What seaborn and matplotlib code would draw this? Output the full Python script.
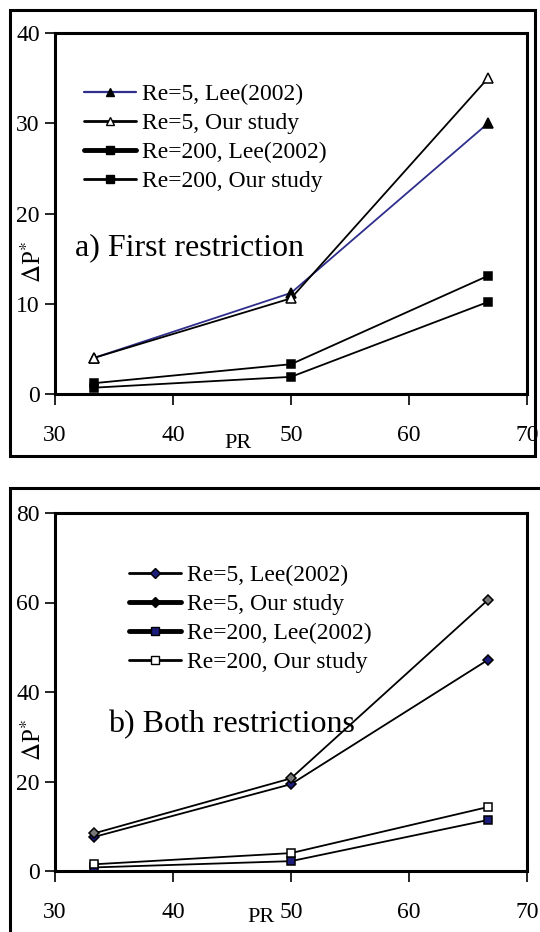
import matplotlib
matplotlib.use("Agg")
import matplotlib.pyplot as plt
from matplotlib.lines import Line2D
from matplotlib.patches import Rectangle
import seaborn as sns

# ---------------- data ----------------
pr = [33.3, 50.0, 66.7]

# a) First restriction
a_re5_lee = [4.0, 11.2, 30.0]
a_re5_our = [4.0, 10.6, 35.0]
a_re200_lee = [0.7, 1.9, 10.2]
a_re200_our = [1.2, 3.3, 13.1]

# b) Both restrictions
b_re5_lee = [7.6, 19.4, 47.2]
b_re5_our = [8.4, 20.7, 60.6]
b_re200_lee = [0.8, 2.2, 11.4]
b_re200_our = [1.5, 4.0, 14.3]

labels = ["Re=5, Lee(2002)", "Re=5, Our study", "Re=200, Lee(2002)", "Re=200, Our study"]
x_ticks = [30, 40, 50, 60, 70]
a_yticks = [0, 10, 20, 30, 40]
b_yticks = [0, 20, 40, 60, 80]

# ---------------- style ----------------
sns.set_theme(style="white")
plt.rcParams["font.family"] = ["Liberation Serif", "DejaVu Serif"]
plt.rcParams["mathtext.fontset"] = "stix"
plt.rcParams["text.color"] = "black"
plt.rcParams["xtick.color"] = "black"
plt.rcParams["ytick.color"] = "black"
plt.rcParams["axes.labelcolor"] = "black"

W, H = 540, 932
fig = plt.figure(figsize=(W / 100, H / 100), dpi=100)
fig.patch.set_facecolor("white")


def pix_axes(left, top, right, bottom):
    return fig.add_axes([left / W, (H - bottom) / H, (right - left) / W, (bottom - top) / H])


def frame(left, top, right, bottom):
    fig.patches.append(Rectangle((left / W, (H - bottom) / H), (right - left) / W, (bottom - top) / H,
                                 transform=fig.transFigure, fill=False, edgecolor="black",
                                 linewidth=2.2, clip_on=False))


NAVY = "#2e2e8c"
DBLUE = "#1c1c7a"
FS = 16


def draw(ax, series, styles, yticks, legend_handles, leg_anchor, note, note_xy, ylab_xy, prlab_xy):
    for vals, (color, marker, mfc, ms, lab) in zip(series, styles):
        sns.lineplot(x=pr, y=vals, ax=ax, color=color, marker=marker, markersize=ms,
                     markerfacecolor=mfc, markeredgecolor="black", markeredgewidth=1.1,
                     linewidth=1.3, legend=False)
    ax.set_xlim(30, 70)
    ax.set_ylim(yticks[0], yticks[-1])
    ax.set_xticks(x_ticks)
    ax.set_yticks(yticks)
    ax.set_xticklabels([str(t) for t in x_ticks], fontsize=FS + 1)
    ax.set_yticklabels([str(t) for t in yticks], fontsize=FS + 1)
    ax.tick_params(axis="x", direction="out", length=8, width=1.2, pad=14, bottom=True)
    ax.tick_params(axis="y", direction="out", length=7, width=1.2, pad=4, left=True)
    for s in ax.spines.values():
        s.set_visible(True)
        s.set_color("black")
        s.set_linewidth(2.2)
    ax.set_xlabel("")
    ax.set_ylabel("")
    ax.legend(handles=legend_handles, labels=labels, loc="upper left", bbox_to_anchor=leg_anchor,
              frameon=False, fontsize=17, handlelength=2.2, handletextpad=0.25,
              labelspacing=0.32, borderpad=0, borderaxespad=0)
    ax.text(note_xy[0], note_xy[1], note, transform=ax.transAxes, fontsize=23,
            ha="left", va="center")
    fig.text(ylab_xy[0] / W, (H - ylab_xy[1]) / H, r"$\Delta$P$^{*}$", rotation=90,
             fontsize=18, ha="center", va="center")
    fig.text(prlab_xy[0] / W, (H - prlab_xy[1]) / H, "PR", fontsize=FS, ha="center", va="center")


# ---------- panel a ----------
frame(10, 10, 535, 456)
ax1 = pix_axes(55, 33, 527, 394)
styles_a = [
    (NAVY, "^", "black", 7, labels[0]),
    ("black", "^", "white", 7, labels[1]),
    ("black", "s", "black", 6, labels[2]),
    ("black", "s", "black", 6, labels[3]),
]
handles_a = [
    Line2D([], [], color=NAVY, lw=1.6, marker="^", ms=6, mfc="black", mec="black"),
    Line2D([], [], color="black", lw=2.0, marker="^", ms=6, mfc="white", mec="black"),
    Line2D([], [], color="black", lw=3.5, marker="s", ms=6, mfc="black", mec="black"),
    Line2D([], [], color="black", lw=2.0, marker="s", ms=6, mfc="black", mec="black"),
]
draw(ax1, [a_re5_lee, a_re5_our, a_re200_lee, a_re200_our], styles_a, a_yticks, handles_a,
     (0.061, 0.860), "a) First restriction", (0.043, 0.405), (33, 262), (238, 443))

# ---------- panel b ----------
frame(10, 488, 570, 970)
ax2 = pix_axes(55, 513, 527, 871)
styles_b = [
    ("black", "D", DBLUE, 5, labels[0]),
    ("black", "D", "#777777", 5, labels[1]),
    ("black", "s", DBLUE, 6, labels[2]),
    ("black", "s", "white", 6, labels[3]),
]
handles_b = [
    Line2D([], [], color="black", lw=2.0, marker="D", ms=5, mfc=DBLUE, mec="black"),
    Line2D([], [], color="black", lw=3.5, marker="D", ms=5, mfc="black", mec="black"),
    Line2D([], [], color="black", lw=3.5, marker="s", ms=6, mfc=DBLUE, mec="black"),
    Line2D([], [], color="black", lw=2.0, marker="s", ms=6, mfc="white", mec="black"),
]
draw(ax2, [b_re5_lee, b_re5_our, b_re200_lee, b_re200_our], styles_b, b_yticks, handles_b,
     (0.157, 0.856), "b) Both restrictions", (0.112, 0.41), (33, 740), (261, 918))

fig.savefig("out.png", dpi=100, facecolor="white")
